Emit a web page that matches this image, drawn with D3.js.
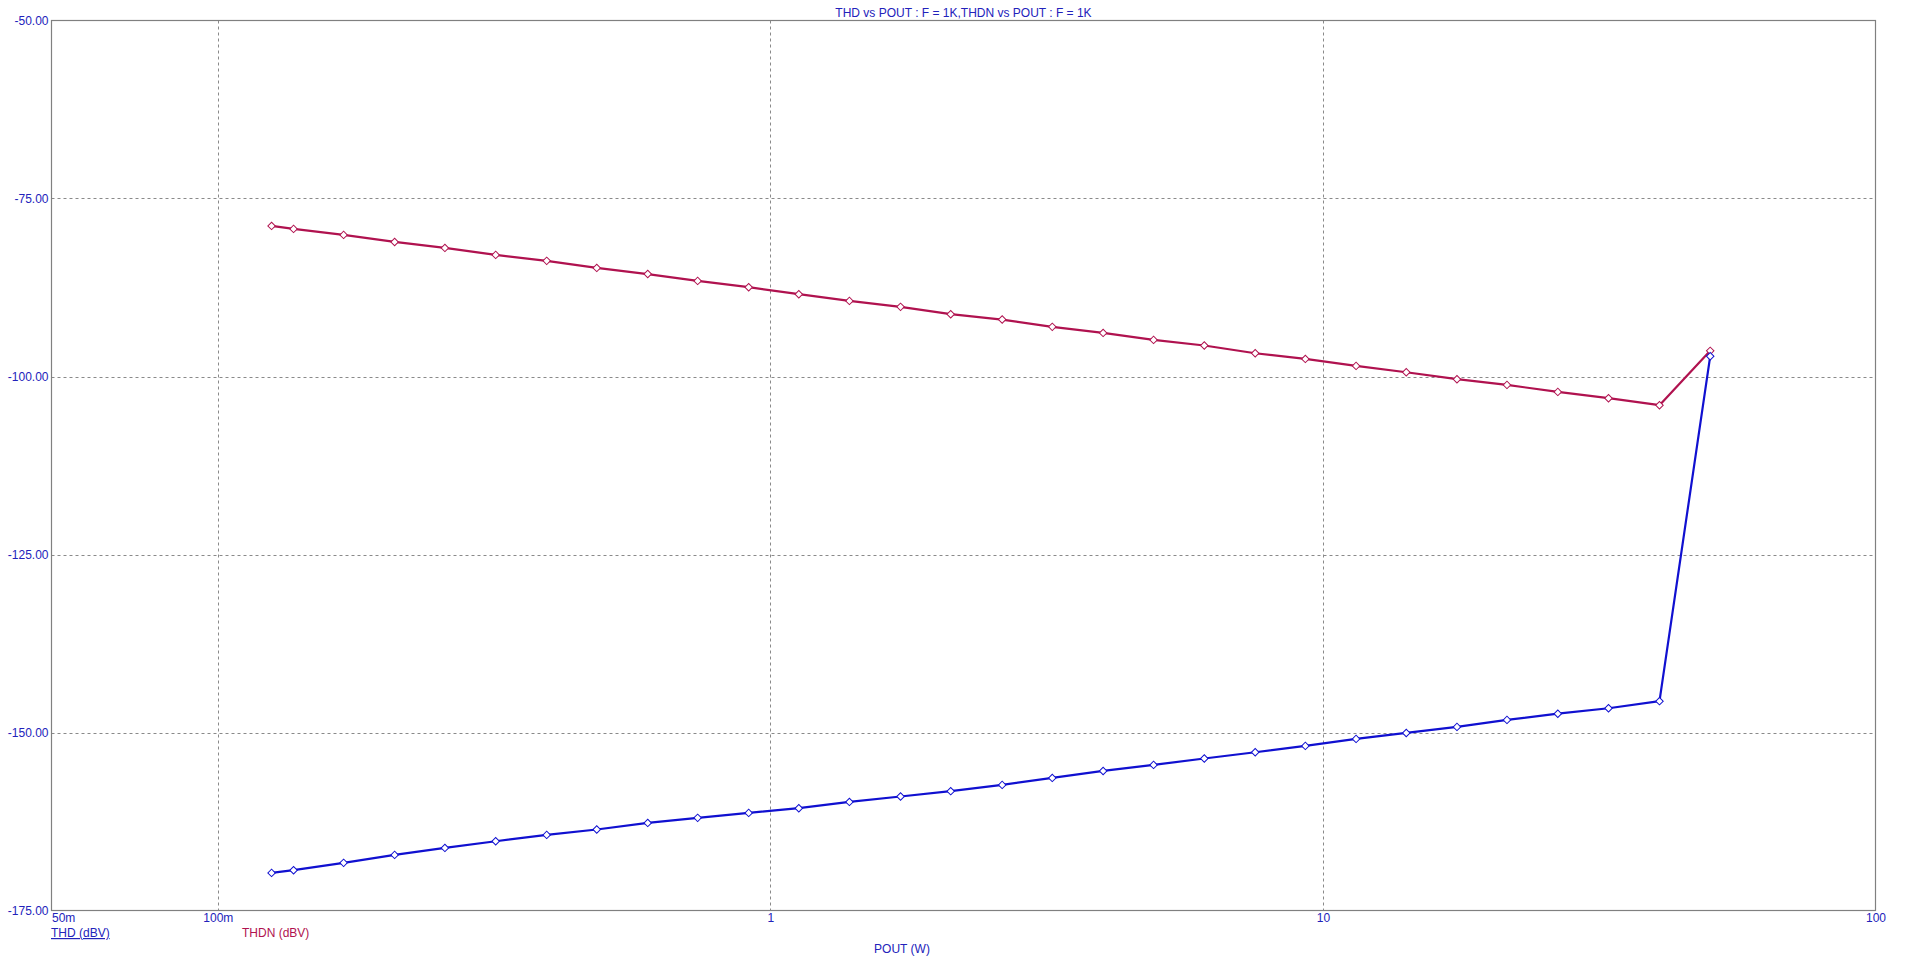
<!DOCTYPE html>
<html>
<head>
<meta charset="utf-8">
<script src="https://cdn.jsdelivr.net/npm/d3@7"></script>
<style>
  html, body { margin: 0; padding: 0; background: #fff; }
  svg { display: block; }
  text { font-family: "Liberation Sans", Arial, sans-serif; }
</style>
</head>
<body>
<svg id="chart" width="1907" height="969"></svg>
<script>
// ---- data ----
const powerW = [0.1251, 0.1371, 0.1689, 0.2089, 0.2576, 0.3183, 0.3937, 0.4850, 0.5998, 0.7385,
                0.9135, 1.1257, 1.390, 1.720, 2.120, 2.627, 3.237, 4.001, 4.937, 6.099,
                7.541, 9.293, 11.48, 14.15, 17.48, 21.53, 26.61, 32.87, 40.65, 50.22];
const thdDb = [-169.72, -169.34, -168.31, -167.19, -166.21, -165.27, -164.38, -163.62, -162.70, -161.99,
               -161.29, -160.63, -159.75, -158.99, -158.24, -157.36, -156.38, -155.40, -154.55, -153.65,
               -152.77, -151.88, -150.90, -150.06, -149.21, -148.23, -147.36, -146.59, -145.60, -97.15];
const thdnDb = [-78.85, -79.27, -80.11, -81.10, -81.94, -82.92, -83.76, -84.75, -85.61, -86.57,
                -87.46, -88.44, -89.38, -90.22, -91.25, -92.00, -93.03, -93.88, -94.86, -95.65,
                -96.73, -97.53, -98.51, -99.40, -100.38, -101.18, -102.16, -103.05, -104.03, -96.40];
const yTickValues = [-50, -75, -100, -125, -150, -175];
const xTickValues = [0.05, 0.1, 1, 10, 100];
const xTickLabels = ["50m", "100m", "1", "10", "100"];
const seriesNames = ["THD (dBV)", "THDN (dBV)"];
const titleText = "THD vs POUT : F = 1K,THDN vs POUT : F = 1K";
const xAxisTitle = "POUT (W)";

// ---- layout / style ----
const L = 51.5, R = 1875.5, T = 20.5, B = 910.5;
const textBlue = "#2222bb";
const thdColor = "#1010d0";
const thdnColor = "#b0124f";
const gridColor = "#8a8a8a";
const frameColor = "#808080";

const svg = d3.select("#chart");
svg.append("rect").attr("width", 1907).attr("height", 969).attr("fill", "#fff");

const x = d3.scaleLog().domain([0.05, 100]).range([L, R]);
const y = d3.scaleLinear().domain([-175, -50]).range([B, T]);

// gridlines
const grid = svg.append("g");
grid.selectAll("line.vx").data(xTickValues.filter(v => v > 0.05 && v < 100)).join("line")
  .attr("x1", d => Math.round(x(d)) + 0.5).attr("x2", d => Math.round(x(d)) + 0.5)
  .attr("y1", T).attr("y2", B)
  .attr("stroke", gridColor).attr("stroke-width", 1).attr("stroke-dasharray", "3,3");
grid.selectAll("line.hy").data(yTickValues.filter(v => v > -175 && v < -50)).join("line")
  .attr("y1", d => Math.round(y(d)) + 0.5).attr("y2", d => Math.round(y(d)) + 0.5)
  .attr("x1", L).attr("x2", R)
  .attr("stroke", gridColor).attr("stroke-width", 1).attr("stroke-dasharray", "3,3");

// frame
svg.append("rect").attr("x", L).attr("y", T).attr("width", R - L).attr("height", B - T)
  .attr("fill", "none").attr("stroke", frameColor).attr("stroke-width", 1.2);

// y axis labels
const fmt2 = d3.format(".2f");
const yAxis = d3.axisLeft(y).tickValues(yTickValues)
  .tickFormat(d => fmt2(d).replace("\u2212", "-")).tickSize(0).tickPadding(3);
const gy = svg.append("g").attr("transform", `translate(${L},0)`).call(yAxis);
gy.select(".domain").remove();
gy.selectAll("text").attr("fill", textBlue).attr("font-size", 12)
  .attr("font-family", "'Liberation Sans', Arial, sans-serif");

// x axis labels
const xAxis = d3.axisBottom(x).tickValues(xTickValues)
  .tickFormat((d, i) => xTickLabels[i]).tickSize(0).tickPadding(3);
const gx = svg.append("g").attr("transform", `translate(0,${B})`).call(xAxis);
gx.select(".domain").remove();
gx.selectAll("text").attr("fill", textBlue).attr("font-size", 12)
  .attr("font-family", "'Liberation Sans', Arial, sans-serif")
  .attr("text-anchor", (d, i) => i === 0 ? "start" : "middle");

// title
svg.append("text").attr("x", (L + R) / 2).attr("y", 16.5).attr("text-anchor", "middle")
  .attr("fill", textBlue).attr("font-size", 12).text(titleText);

// x axis title
svg.append("text").attr("x", 902).attr("y", 953).attr("text-anchor", "middle")
  .attr("fill", textBlue).attr("font-size", 12).text(xAxisTitle);

// legend
svg.append("text").attr("x", 51).attr("y", 937).attr("fill", textBlue).attr("font-size", 12)
  .attr("text-decoration", "underline").text(seriesNames[0]);
svg.append("text").attr("x", 242).attr("y", 937).attr("fill", thdnColor).attr("font-size", 12)
  .text(seriesNames[1]);

// series
const series = [
  { values: thdnDb, color: thdnColor },
  { values: thdDb, color: thdColor }
];
const line = d3.line().x(d => x(d[0])).y(d => y(d[1]));
const diamond = d3.symbol().type(d3.symbolSquare).size(28);

series.forEach(s => {
  const pts = powerW.map((p, i) => [p, s.values[i]]);
  svg.append("path").datum(pts).attr("d", line)
    .attr("fill", "none").attr("stroke", s.color).attr("stroke-width", 2.2)
    .attr("stroke-linejoin", "round");
  svg.append("g").selectAll("path").data(pts).join("path")
    .attr("d", diamond)
    .attr("transform", d => `translate(${x(d[0])},${y(d[1])}) rotate(45)`)
    .attr("fill", "#fff").attr("stroke", s.color).attr("stroke-width", 1);
});
</script>
</body>
</html>
